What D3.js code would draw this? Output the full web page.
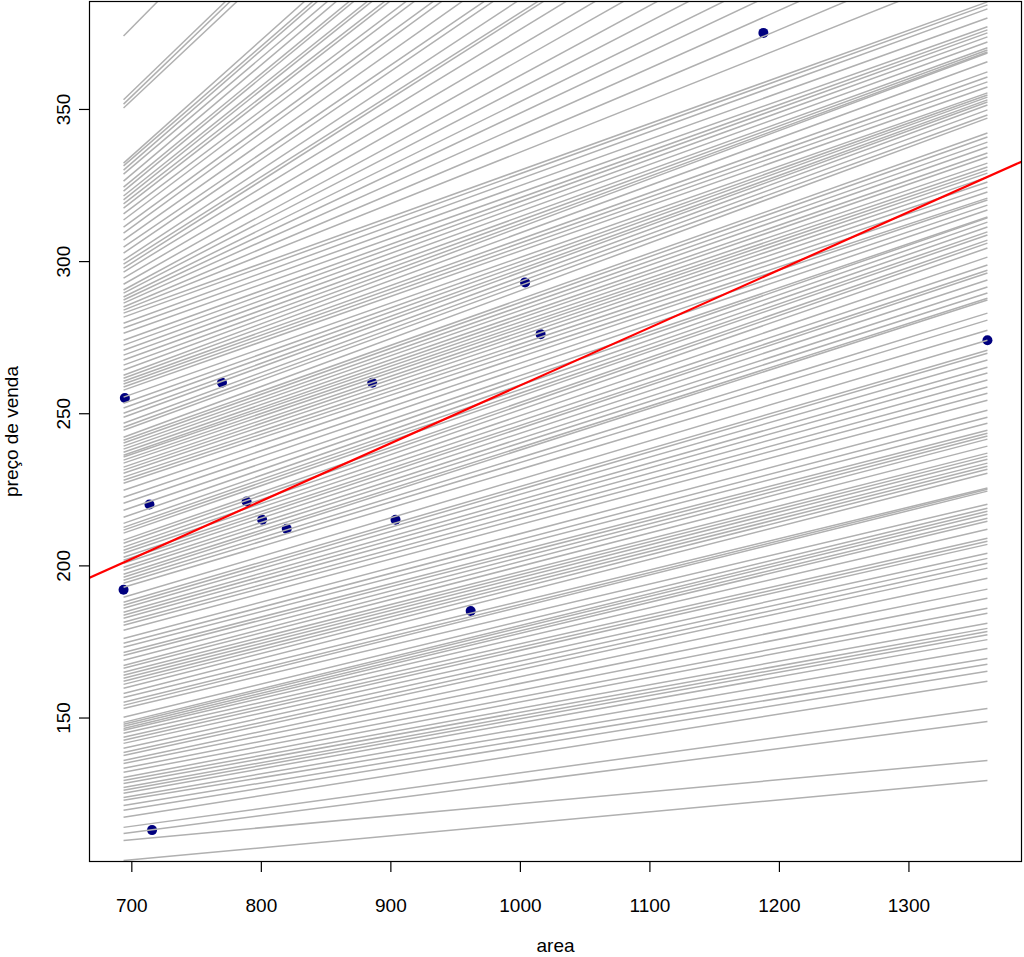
<!DOCTYPE html>
<html>
<head>
<meta charset="utf-8">
<script src="https://cdn.jsdelivr.net/npm/d3@7"></script>
<style>
  body { margin: 0; background: #ffffff; }
  svg { display: block; }
  text { font-family: "Liberation Sans", Arial, Helvetica, sans-serif; fill: #000; }
</style>
</head>
<body>
<script>
// ---- data ----
const area  = [694, 695, 714, 716, 770, 789, 801, 820, 886, 904, 962, 1004, 1016, 1188, 1361];
const price = [192, 255, 220, 113, 260, 221, 215, 212, 260, 215, 185, 293, 276, 375, 274];

// sampled regression lines: value at min(area) and at max(area)
const lineStart = [
  374.0, 353.0, 351.6, 350.3, 332.2, 331.3, 329.9, 328.6, 326.3, 324.3, 323.0, 321.4, 320.1, 318.8, 317.4,
  315.5, 313.5, 311.2, 309.2, 306.9, 304.6, 302.6, 300.3, 299.0, 297.7, 296.4, 294.4, 292.4, 290.5, 289.5,
  288.2, 287.2, 286.2, 284.9, 283.9,
  282.9, 281.6, 279.6, 278.0, 276.3, 274.0, 272.4, 270.7, 269.1, 267.5, 265.8, 264.2, 262.5, 261.5, 260.5,
  259.6, 258.6, 257.6, 255.3, 253.3, 251.7, 250.0, 248.7, 246.7, 245.4, 244.4,
  242.1, 241.1, 240.2, 239.2, 238.2, 237.2, 236.2, 235.6, 234.6, 233.6, 232.3, 231.3, 230.3, 229.0, 228.0,
  227.0, 224.7, 222.4, 220.4, 218.1, 215.8, 213.8, 212.5, 211.6, 210.6, 208.3, 207.3, 206.0, 205.0, 204.0,
  202.7, 201.7, 200.7, 199.4, 198.4, 197.1, 196.1,
  195.1, 194.1, 192.8, 189.5, 187.9, 186.9, 185.9, 184.6, 183.6, 182.6, 181.3, 180.3, 178.7, 176.0, 174.4,
  173.1, 171.4, 170.4, 168.8, 167.1, 166.2, 164.9, 163.9, 162.9, 161.9, 160.9, 159.6, 157.9, 156.6, 155.0,
  154.0, 153.0, 150.1, 148.4, 147.8, 147.1, 146.4, 145.8, 144.8, 143.5, 142.5, 141.5, 139.9, 138.5, 137.5,
  135.9, 134.9, 133.3, 132.0, 130.3, 129.3, 128.3, 127.0, 126.1, 125.1, 123.7, 122.8, 121.1, 119.5, 117.2,
  113.9, 111.9, 109.6, 103.0
];
const lineEnd = [
  661, 627, 625, 617, 586, 578, 577, 569, 566, 558, 557, 548, 547, 539, 538,
  529, 527, 518, 516, 507, 498, 496, 487, 479, 478, 470, 461, 453, 444, 436,
  428, 421, 413, 405, 397,
  385.2, 384.2, 382.9, 379.9, 377.0, 376.0, 375.0, 373.7, 372.0, 370.1, 369.4, 368.7, 368.4, 365.5, 362.2,
  360.5, 358.9, 357.2, 355.3, 354.6, 353.9, 353.0, 352.3, 351.3, 349.7, 348.0, 347.0, 342.1, 340.8, 339.1,
  337.5, 335.5, 334.2, 332.2, 330.9, 329.9, 328.9, 327.6, 326.0, 324.3, 322.7, 320.7, 320.1, 318.4, 316.8,
  314.5, 314.2, 312.8, 311.2, 309.6, 308.6, 306.9, 305.9, 304.3, 301.3, 298.7, 297.0, 296.1, 293.8, 291.5,
  289.5, 287.8,
  287.2, 282.9, 280.6, 277.3, 274.0, 270.7, 269.7, 267.5, 265.1, 263.2, 260.9, 258.6, 256.6, 254.3, 251.0,
  248.7, 246.7, 244.4,
  243.4, 242.5, 241.5, 239.2, 236.9, 235.9, 234.9, 233.6, 232.6, 231.6, 230.3, 225.4, 225.0, 224.4, 220.1,
  218.8, 217.8, 216.8, 215.5, 214.5, 211.9, 208.9, 207.9, 206.9, 204.0, 202.3, 200.7, 199.1, 195.8, 192.2,
  189.2, 185.9, 184.3, 181.0, 179.3, 178.3, 177.2, 175.6, 172.7, 169.4, 167.5, 165.2, 161.9, 153.0, 148.7,
  135.9, 129.3
];

// least-squares fit line (intercept, slope)
const fitCoef = [69.1, 0.190];

const xTicks = [700, 800, 900, 1000, 1100, 1200, 1300];
const yTicks = [150, 200, 250, 300, 350];
const xTitle = "area";
const yTitle = "preço de venda";

// ---- layout ----
const W = 1024, H = 957;
const plot = { left: 89, right: 1022, top: 1, bottom: 862 };
const fontSize = 19;

const svg = d3.select("body").append("svg").attr("width", W).attr("height", H);

function rRange(ext) { const d = (ext[1] - ext[0]) * 0.04; return [ext[0] - d, ext[1] + d]; }

const x = d3.scaleLinear().domain(rRange(d3.extent(area))).range([plot.left, plot.right]);
const y = d3.scaleLinear().domain(rRange(d3.extent(price))).range([plot.bottom, plot.top]);

svg.append("defs").append("clipPath").attr("id", "clip")
  .append("rect")
  .attr("x", plot.left).attr("y", plot.top)
  .attr("width", plot.right - plot.left).attr("height", plot.bottom - plot.top);

const g = svg.append("g").attr("clip-path", "url(#clip)");

// points (drawn first, lines over them)
g.append("g").selectAll("circle")
  .data(area.map((a, i) => [a, price[i]]))
  .join("circle")
  .attr("cx", d => x(d[0]))
  .attr("cy", d => y(d[1]))
  .attr("r", 5)
  .attr("fill", "#00007f");

// sampled lines
const xr = d3.extent(area);
g.append("g").selectAll("line")
  .data(lineStart.map((s, i) => [s, lineEnd[i]]))
  .join("line")
  .attr("x1", x(xr[0])).attr("x2", x(xr[1]))
  .attr("y1", d => y(d[0])).attr("y2", d => y(d[1]))
  .attr("stroke", "#b0b0b0")
  .attr("stroke-width", 1.5);

// fitted line (abline)
const xd = x.domain();
g.append("line")
  .attr("x1", x(xd[0])).attr("x2", x(xd[1]))
  .attr("y1", y(fitCoef[0] + fitCoef[1] * xd[0]))
  .attr("y2", y(fitCoef[0] + fitCoef[1] * xd[1]))
  .attr("stroke", "#ff0000")
  .attr("stroke-width", 2.2);

// frame
svg.append("rect")
  .attr("x", plot.left + 0.5).attr("y", plot.top + 0.5)
  .attr("width", plot.right - plot.left - 1).attr("height", plot.bottom - plot.top - 1)
  .attr("fill", "none").attr("stroke", "#000").attr("stroke-width", 1.2);

// x axis
const xAxis = svg.append("g")
  .attr("transform", `translate(0,${plot.bottom})`)
  .call(d3.axisBottom(x).tickValues(xTicks).tickSize(10).tickFormat(d3.format("d")));
xAxis.select(".domain").remove();
xAxis.selectAll(".tick line").attr("stroke", "#000").attr("stroke-width", 1.2);
xAxis.selectAll(".tick text")
  .attr("y", 43).attr("dy", "0.35em")
  .attr("font-size", fontSize).attr("font-family", "Liberation Sans, Arial, sans-serif").attr("fill", "#000");

// y axis
const yAxis = svg.append("g")
  .attr("transform", `translate(${plot.left},0)`)
  .call(d3.axisLeft(y).tickValues(yTicks).tickSize(10).tickFormat(d3.format("d")));
yAxis.select(".domain").remove();
yAxis.selectAll(".tick line").attr("stroke", "#000").attr("stroke-width", 1.2);
yAxis.selectAll(".tick text")
  .attr("x", null).attr("dy", "0.35em")
  .attr("text-anchor", "middle")
  .attr("transform", "translate(-26,0) rotate(-90)")
  .attr("font-size", fontSize).attr("font-family", "Liberation Sans, Arial, sans-serif").attr("fill", "#000");

// titles
svg.append("text")
  .attr("x", (plot.left + plot.right) / 2).attr("y", 945).attr("dy", "0.35em")
  .attr("text-anchor", "middle").attr("font-size", fontSize)
  .text(xTitle);
svg.append("text")
  .attr("transform", `translate(11,${(plot.top + plot.bottom) / 2}) rotate(-90)`)
  .attr("dy", "0.35em")
  .attr("text-anchor", "middle").attr("font-size", fontSize)
  .text(yTitle);
</script>
</body>
</html>
